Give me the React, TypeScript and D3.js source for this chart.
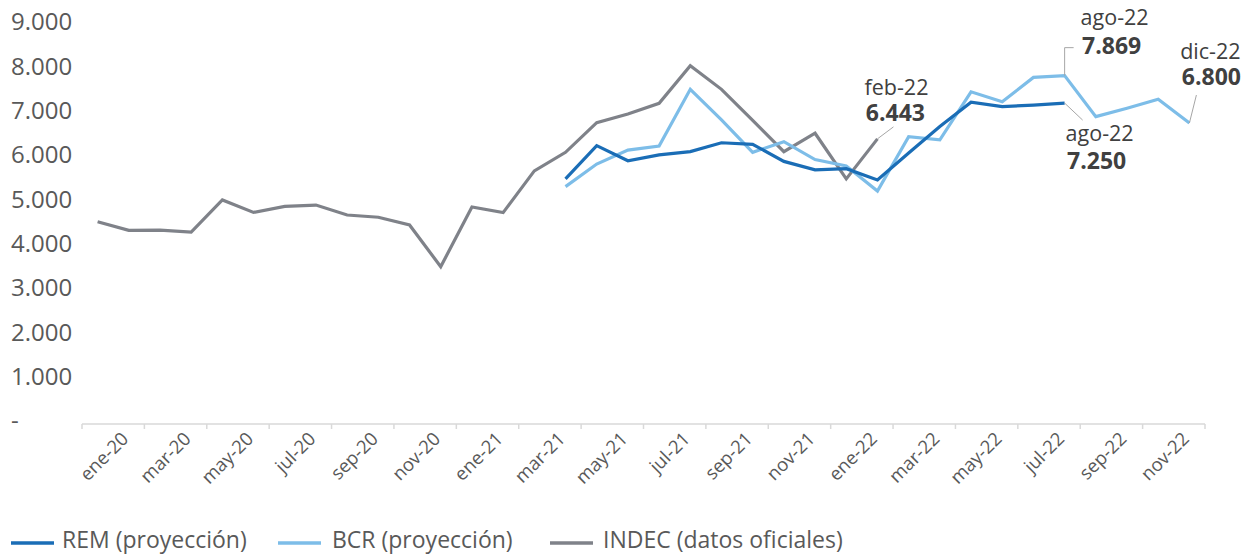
import React from "react";
import * as d3 from "d3";

const months = [
  "ene-20", "feb-20", "mar-20", "abr-20", "may-20", "jun-20", "jul-20", "ago-20", "sep-20", "oct-20", "nov-20", "dic-20",
  "ene-21", "feb-21", "mar-21", "abr-21", "may-21", "jun-21", "jul-21", "ago-21", "sep-21", "oct-21", "nov-21", "dic-21",
  "ene-22", "feb-22", "mar-22", "abr-22", "may-22", "jun-22", "jul-22", "ago-22", "sep-22", "oct-22", "nov-22", "dic-22",
];

// INDEC (datos oficiales): ene-20 .. feb-22
const indec = [
  4575, 4380, 4385, 4340, 5065, 4785, 4920, 4950, 4725, 4675, 4500, 3560,
  4905, 4780, 5720, 6140, 6810, 7005, 7245, 8095, 7560, 6860, 6155, 6570,
  5540, 6443,
];

// REM (proyección): abr-21 .. ago-22
const rem = [
  5540, 6290, 5950, 6080, 6155, 6355, 6320, 5935, 5745,
  5770, 5515, 6125, 6720, 7270, 7170, 7205, 7250,
];

// BCR (proyección): abr-21 .. dic-22
const bcr = [
  5365, 5875, 6190, 6280, 7560, 6870, 6140, 6380, 5975,
  5830, 5265, 6490, 6420, 7505, 7280, 7830, 7869, 6945, 7135, 7335, 6800,
];

const yTicks = [0, 1000, 2000, 3000, 4000, 5000, 6000, 7000, 8000, 9000];

const series = [
  { name: "REM (proyección)", start: "abr-21", values: rem, color: "#1a6db6" },
  { name: "BCR (proyección)", start: "abr-21", values: bcr, color: "#7dbde8" },
  { name: "INDEC (datos oficiales)", start: "ene-20", values: indec, color: "#7f8289" },
];

const FONT = "'Open Sans', 'Noto Sans', sans-serif";

export default function App() {
  const width = 1257;
  const height = 554;

  const x = d3.scaleBand<string>().domain(months).range([82, 1205]).padding(0);
  const bw = x.bandwidth();
  const cx = (m: string) => (x(m) as number) + bw / 2;
  const y = d3.scaleLinear().domain([0, 9000]).range([424.5, 25.5]);

  const fmt = (v: number) => (v === 0 ? "-" : d3.format(",")(v).replace(/,/g, "."));

  const toPoints = (s: typeof series[number]) => {
    const i0 = months.indexOf(s.start);
    return s.values.map((v, i) => ({ m: months[i0 + i], v }));
  };

  const line = d3
    .line<{ m: string; v: number }>()
    .x((d) => cx(d.m))
    .y((d) => y(d.v));

  const pt = (arr: number[], start: string, m: string) => {
    const i = months.indexOf(m) - months.indexOf(start);
    return [cx(m), y(arr[i])];
  };

  const [fx, fy] = pt(indec, "ene-20", "feb-22");
  const [bx, by] = pt(bcr, "abr-21", "ago-22");
  const [dx, dy] = pt(bcr, "abr-21", "dic-22");
  const [rx, ry] = pt(rem, "abr-21", "ago-22");

  const legendPos = [
    { lx: 11, tx: 62 },
    { lx: 278, tx: 332 },
    { lx: 550, tx: 603 },
  ];

  return (
    <svg width={width} height={height} style={{ position: "absolute", left: 0, top: 0, background: "#fff" }}>
      {/* y labels */}
      {yTicks.map((t) => (
        <text key={t} x={11} y={y(t) - 1.5} fontFamily={FONT} fontSize={24} fill="#595959" dominantBaseline="middle">
          {fmt(t)}
        </text>
      ))}

      {/* x axis */}
      <line x1={82} x2={1205} y1={424} y2={424} stroke="#d9d9d9" strokeWidth={1.5} />
      {months.map((m, i) =>
        i % 2 === 0 ? (
          <line key={m} x1={x(m)} x2={x(m)} y1={424} y2={429} stroke="#d9d9d9" strokeWidth={1.5} />
        ) : null
      )}
      <line x1={1205} x2={1205} y1={424} y2={429} stroke="#d9d9d9" strokeWidth={1.5} />
      {months.map((m, i) =>
        i % 2 === 0 ? (
          <text
            key={m}
            transform={`translate(${cx(m) + 32},${440}) rotate(-45)`}
            textAnchor="end"
            fontFamily={FONT}
            fontSize={18.5}
            fill="#595959"
          >
            {m}
          </text>
        ) : null
      )}

      {/* lines */}
      {[series[2], series[1], series[0]].map((s) => (
        <path key={s.name} d={line(toPoints(s)) || ""} fill="none" stroke={s.color} strokeWidth={3.2} strokeLinejoin="miter" />
      ))}

      {/* annotations */}
      <g fontFamily={FONT} fill="#404040" textAnchor="middle">
        <line x1={fx} y1={fy} x2={fx + 16} y2={fy - 12} stroke="#a6a6a6" strokeWidth={1} />
        <text x={fx + 19} y={fy - 44} fontSize={21.5}>feb-22</text>
        <text x={fx + 18} y={fy - 18} fontSize={23} fontWeight={700}>{fmt(6443)}</text>

        <polyline points={`${bx},${by} ${bx},${by - 28} ${bx + 9},${by - 28}`} fill="none" stroke="#a6a6a6" strokeWidth={1} />
        <text x={bx + 50} y={by - 51} fontSize={21.5}>ago-22</text>
        <text x={bx + 47} y={by - 22} fontSize={23} fontWeight={700}>{fmt(7869)}</text>

        <line x1={dx} y1={dy} x2={dx + 7} y2={dy - 28} stroke="#a6a6a6" strokeWidth={1} />
        <text x={dx + 21} y={dy - 64} fontSize={21.5}>dic-22</text>
        <text x={dx + 22} y={dy - 38} fontSize={23} fontWeight={700}>{fmt(6800)}</text>

        <line x1={rx} y1={ry} x2={rx + 18} y2={ry + 17} stroke="#a6a6a6" strokeWidth={1} />
        <text x={rx + 35} y={ry + 38} fontSize={21.5}>ago-22</text>
        <text x={rx + 32} y={ry + 66} fontSize={23} fontWeight={700}>{fmt(7250)}</text>
      </g>

      {/* legend */}
      {series.map((s, i) => (
        <g key={s.name}>
          <line x1={legendPos[i].lx} x2={legendPos[i].lx + 43} y1={543} y2={543} stroke={s.color} strokeWidth={3.5} />
          <text x={legendPos[i].tx} y={548} fontFamily={FONT} fontSize={23} fill="#595959">
            {s.name}
          </text>
        </g>
      ))}
    </svg>
  );
}
